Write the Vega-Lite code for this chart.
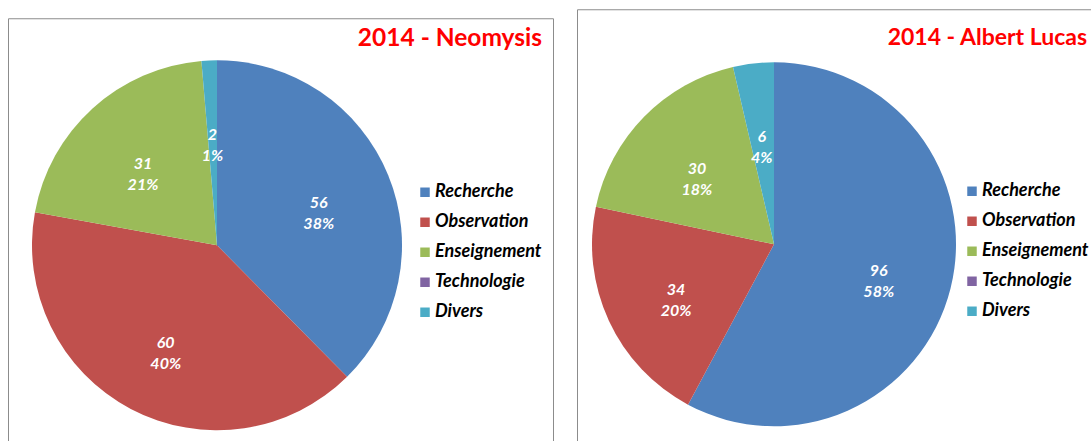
{
  "$schema": "https://vega.github.io/schema/vega-lite/v6.json",
  "padding": {"left": 7, "top": 8, "right": 0, "bottom": 0},
  "background": "white",
  "spacing": 22,
  "center": true,
  "datasets": {
    "neomysis": [
      {"categorie": "Recherche", "ordre": 1, "valeur": 56, "etiquette": "56\n38%"},
      {"categorie": "Observation", "ordre": 2, "valeur": 60, "etiquette": "60\n40%"},
      {"categorie": "Enseignement", "ordre": 3, "valeur": 31, "etiquette": "31\n21%"},
      {"categorie": "Technologie", "ordre": 4, "valeur": 0, "etiquette": ""},
      {"categorie": "Divers", "ordre": 5, "valeur": 2, "etiquette": "2\n1%"}
    ],
    "albert": [
      {"categorie": "Recherche", "ordre": 1, "valeur": 96, "etiquette": "96\n58%"},
      {"categorie": "Observation", "ordre": 2, "valeur": 34, "etiquette": "34\n20%"},
      {"categorie": "Enseignement", "ordre": 3, "valeur": 30, "etiquette": "30\n18%"},
      {"categorie": "Technologie", "ordre": 4, "valeur": 0, "etiquette": ""},
      {"categorie": "Divers", "ordre": 5, "valeur": 6, "etiquette": "6\n4%"}
    ]
  },
  "resolve": {"legend": {"color": "independent"}, "scale": {"color": "independent"}},
  "hconcat": [
    {
      "width": 545,
      "height": 432,
      "view": {"stroke": "#8C8C8C", "strokeWidth": 1},
      "data": {"name": "neomysis"},
      "title": {"text": "2014 - Neomysis", "orient": "top", "anchor": "end", "frame": "group", "offset": -45, "dx": -11, "baseline": "middle", "color": "#FF0000", "font": "Lato", "fontWeight": "bold", "fontSize": 24.5},
      "encoding": {
        "theta": {"field": "valeur", "type": "quantitative", "stack": true},
        "order": {"field": "ordre", "type": "quantitative"}
      },
      "layer": [
        {
          "mark": {"type": "arc", "outerRadius": 185, "x": 209, "y": 227},
          "encoding": {
            "color": {
              "field": "categorie", "type": "nominal",
              "scale": {"domain": ["Recherche", "Observation", "Enseignement", "Technologie", "Divers"], "range": ["#4F81BD", "#C0504D", "#9BBB59", "#8064A2", "#4BACC6"]},
              "sort": ["Recherche", "Observation", "Enseignement", "Technologie", "Divers"],
              "legend": {"title": null, "orient": "none", "legendX": 408, "legendY": 165, "symbolType": "square", "symbolSize": 90, "symbolStrokeWidth": 0, "labelFont": "Lato", "labelFontSize": 18, "labelFontWeight": "bold", "labelFontStyle": "italic", "labelColor": "black", "rowPadding": 12, "labelOffset": 1}
            }
          }
        },
        {
          "transform": [{"filter": "datum.valeur > 0"}],
          "mark": {"type": "text", "radius": 110, "x": 209, "y": 227, "lineBreak": "\n", "lineHeight": 21, "font": "Lato", "fontSize": 16, "fontWeight": "bold", "fontStyle": "italic", "color": "white"},
          "encoding": {"text": {"field": "etiquette", "type": "nominal"}}
        }
      ]
    },
    {
      "width": 530,
      "height": 450,
      "view": {"stroke": "#8C8C8C", "strokeWidth": 1},
      "data": {"name": "albert"},
      "title": {"text": "2014 - Albert Lucas", "orient": "top", "anchor": "end", "frame": "group", "offset": -52, "dx": -20, "baseline": "middle", "color": "#FF0000", "font": "Lato", "fontWeight": "bold", "fontSize": 23},
      "encoding": {
        "theta": {"field": "valeur", "type": "quantitative", "stack": true},
        "order": {"field": "ordre", "type": "quantitative"}
      },
      "layer": [
        {
          "mark": {"type": "arc", "outerRadius": 182, "x": 197, "y": 235},
          "encoding": {
            "color": {
              "field": "categorie", "type": "nominal",
              "scale": {"domain": ["Recherche", "Observation", "Enseignement", "Technologie", "Divers"], "range": ["#4F81BD", "#C0504D", "#9BBB59", "#8064A2", "#4BACC6"]},
              "sort": ["Recherche", "Observation", "Enseignement", "Technologie", "Divers"],
              "legend": {"title": null, "orient": "none", "legendX": 386, "legendY": 173, "symbolType": "square", "symbolSize": 90, "symbolStrokeWidth": 0, "labelFont": "Lato", "labelFontSize": 18, "labelFontWeight": "bold", "labelFontStyle": "italic", "labelColor": "black", "rowPadding": 12, "labelOffset": 1}
            }
          }
        },
        {
          "transform": [{"filter": "datum.valeur > 0"}],
          "mark": {"type": "text", "radius": 108, "x": 197, "y": 235, "lineBreak": "\n", "lineHeight": 21, "font": "Lato", "fontSize": 16, "fontWeight": "bold", "fontStyle": "italic", "color": "white"},
          "encoding": {"text": {"field": "etiquette", "type": "nominal"}}
        }
      ]
    }
  ],
  "config": {
    "view": {"stroke": "#8C8C8C", "strokeWidth": 1},
    "arc": {"stroke": null}
  }
}
